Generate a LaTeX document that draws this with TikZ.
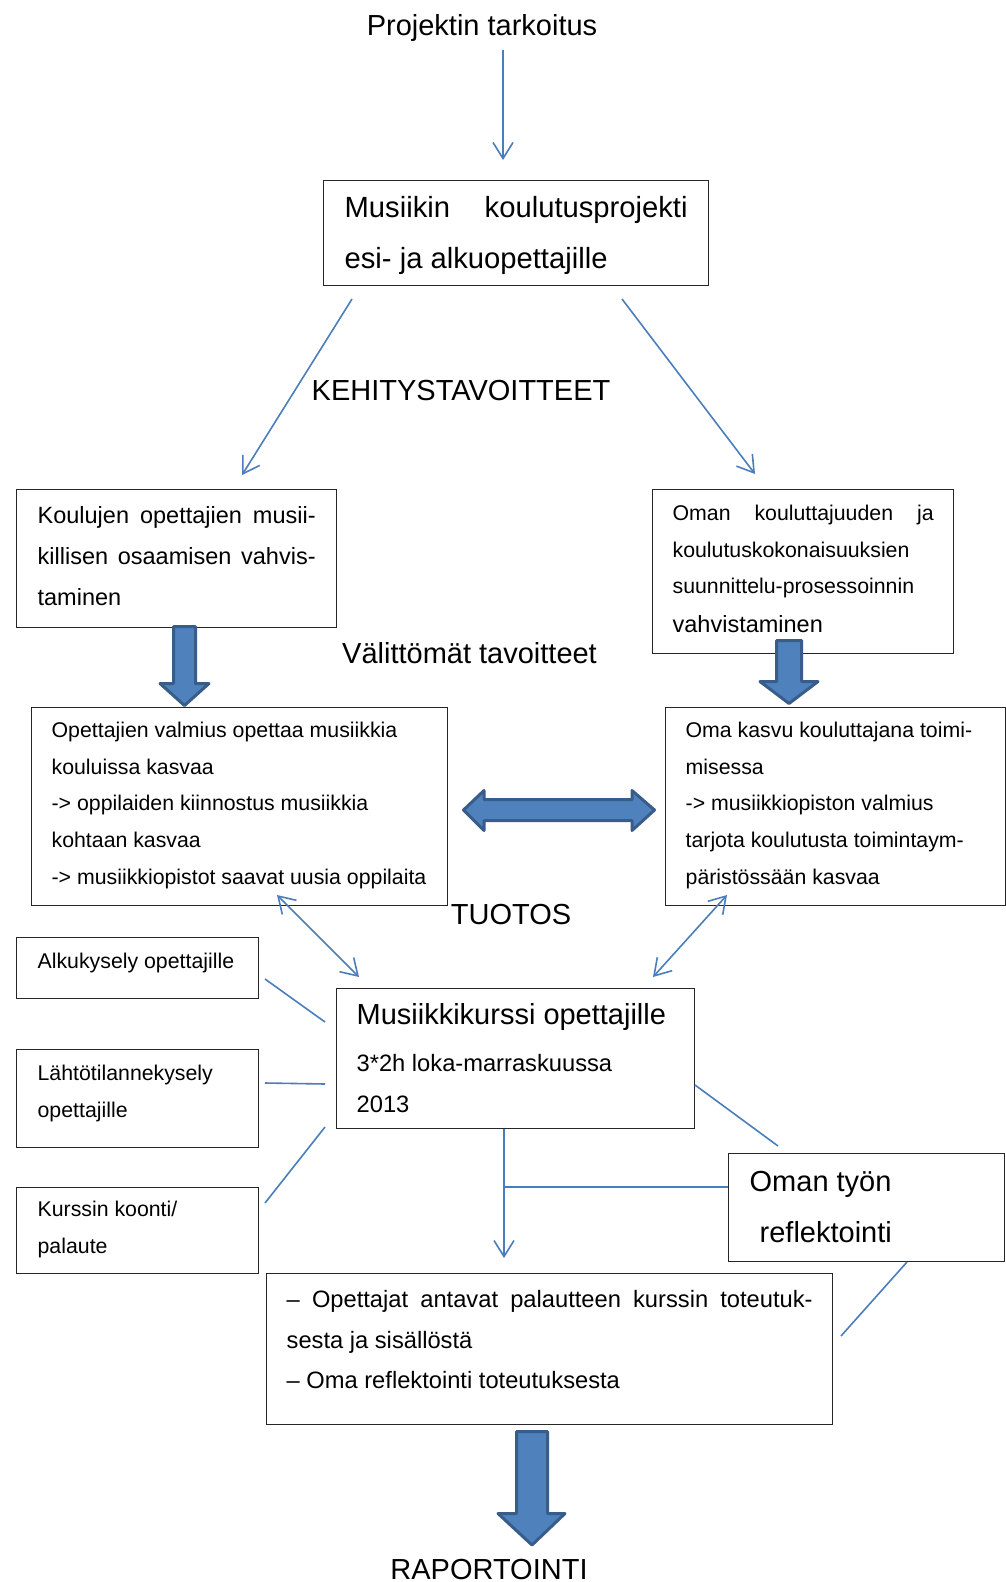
\documentclass[tikz,border=0pt]{standalone}
\usepackage{fontspec}
\setmainfont{Liberation Sans}
\usetikzlibrary{arrows.meta}
\definecolor{lb}{HTML}{4A7EBB}
\definecolor{bf}{HTML}{4F81BD}
\definecolor{bd}{HTML}{385D8A}
\newcommand\bxt[6]{\parbox[c][#2pt][t]{#1pt}{\fontsize{#3}{#4}\selectfont\rule{0pt}{#5pt}#6}}
\newcommand\jl[1]{\makebox[\linewidth][s]{#1}}
\begin{document}
\begin{tikzpicture}[x=1pt,y=-1pt,
  bx/.style={draw=black!85, line width=1.3pt, inner sep=0pt, anchor=north west, fill=white},
  conn/.style={draw=lb, line width=1.6pt},
  arr/.style={conn, -{Straight Barb[length=16pt,width=20pt,line width=1.6pt]}},
  darr/.style={conn, {Straight Barb[length=16pt,width=20pt,line width=1.6pt]}-{Straight Barb[length=16pt,width=20pt,line width=1.6pt]}},
  blk/.style={fill=bf, draw=bd, line width=3pt, line join=round},
  lbl/.style={anchor=base, inner sep=0pt, font=\fontsize{29}{35}\selectfont}]
\useasboundingbox (0,0) rectangle (1006,1582);
\fill[white] (0,0) rectangle (1006,1582);

% labels
\node[lbl] (title) at (482,35) {Projektin tarkoitus};
\node[lbl] (kehit) at (461,400) {KEHITYSTAVOITTEET};
\node[lbl] (valit) at (469.5,663) {Välittömät tavoitteet};
\node[lbl] (tuotos) at (511,924) {TUOTOS};
\node[lbl] (rap) at (489,1579) {RAPORTOINTI};

% boxes
\node[bx, minimum width=385pt] (proj) at (323,180)
  {\bxt{343}{105}{29.2}{51}{37}{\jl{Musiikin koulutusprojekti}\\esi- ja alkuopettajille}};
\node[bx, minimum width=320pt] (koul) at (16,489)
  {\bxt{278}{138}{23.5}{41}{34}{\jl{Koulujen opettajien musii-}\\\jl{killisen osaamisen vahvis-}\\taminen}};
\node[bx, minimum width=301pt] (oman) at (652,489)
  {\bxt{261}{164}{21.3}{36.6}{31}{\jl{Oman kouluttajuuden ja}\\koulutuskokonaisuuksien\\suunnittelu-prosessoinnin\\[2pt]{\fontsize{23.5}{36.6}\selectfont vahvistaminen}}};
\node[bx, minimum width=416pt] (valm) at (31,707)
  {\bxt{376}{198}{21.3}{36.6}{30}{Opettajien valmius opettaa musiikkia\\kouluissa kasvaa\\-> oppilaiden kiinnostus musiikkia\\kohtaan kasvaa\\-> musiikkiopistot saavat uusia oppilaita}};
\node[bx, minimum width=340pt] (kasvu) at (665,707)
  {\bxt{300}{198}{21.3}{36.6}{30}{Oma kasvu kouluttajana toimi-\\misessa\\-> musiikkiopiston valmius\\tarjota koulutusta toimintaym-\\päristössään kasvaa}};
\node[bx, minimum width=242pt] (alku) at (16,937)
  {\bxt{200}{61}{21.3}{37}{31}{Alkukysely opettajille}};
\node[bx, minimum width=242pt] (laht) at (16,1049)
  {\bxt{200}{98}{21.3}{37}{31}{Lähtötilannekysely\\opettajille}};
\node[bx, minimum width=242pt] (koon) at (16,1187)
  {\bxt{200}{86}{21.3}{37}{29}{Kurssin koonti/\\palaute}};
\node[bx, minimum width=358pt] (kurssi) at (336,988)
  {\bxt{318}{140}{23.7}{41}{36}{{\fontsize{29}{41}\selectfont Musiikkikurssi opettajille}\\[6pt]3*2h loka-marraskuussa\\2013}};
\node[bx, minimum width=276pt] (refl) at (728,1153)
  {\bxt{234}{108}{29}{51}{38}{Oman työn\\\hspace*{10pt}reflektointi}};
\node[bx, minimum width=566pt] (palaute) at (266,1273)
  {\bxt{526}{151}{23.7}{40.5}{34}{\jl{– Opettajat antavat palautteen kurssin toteutuk-}\\sesta ja sisällöstä\\– Oma reflektointi toteutuksesta}};

% connector end points
\coordinate (c1a) at (503,50);   \coordinate (c1b) at (503,160);
\coordinate (c2a) at (352,299);  \coordinate (c2b) at (242,475);
\coordinate (c3a) at (622,299);  \coordinate (c3b) at (755,474);
\coordinate (c4a) at (277,895);  \coordinate (c4b) at (359,977);
\coordinate (c5a) at (727,895);  \coordinate (c5b) at (653,977);
\coordinate (c6a) at (265,979);  \coordinate (c6b) at (325,1022);
\coordinate (c7a) at (265,1083); \coordinate (c7b) at (325,1084);
\coordinate (c8a) at (265,1203); \coordinate (c8b) at (325,1127);
\coordinate (c9b) at (504,1258); \coordinate (cj) at (504,1187);
\coordinate (c10a) at (695,1085); \coordinate (c10b) at (778,1146);
\coordinate (c11a) at (907,1262); \coordinate (c11b) at (841,1336);

\draw[arr] (c1a) -- (c1b);
\draw[arr] (c2a) -- (c2b);
\draw[arr] (c3a) -- (c3b);
\draw[darr] (c4a) -- (c4b);
\draw[darr] (c5a) -- (c5b);
\draw[conn] (c6a) -- (c6b);
\draw[conn] (c7a) -- (c7b);
\draw[conn] (c8a) -- (c8b);
\draw[arr] (kurssi.south -| cj) -- (c9b);
\draw[conn] (cj) -- (cj -| refl.west);
\draw[conn] (c10a) -- (c10b);
\draw[conn] (c11a) -- (c11b);

% block arrows
\draw[blk] (173.5,626.5) -- (195.5,626.5) -- (195.5,683.5) -- (209,683.5) -- (184.5,705.5) -- (160,683.5) -- (173.5,683.5) -- cycle;
\draw[blk] (776.5,640.5) -- (801.5,640.5) -- (801.5,681.5) -- (818,681.5) -- (789,703.5) -- (760,681.5) -- (776.5,681.5) -- cycle;
\draw[blk] (516.5,1431.5) -- (547.5,1431.5) -- (547.5,1513.5) -- (565,1513.5) -- (532,1545) -- (498,1513.5) -- (516.5,1513.5) -- cycle;
\draw[blk] (463.5,810) -- (484,790.5) -- (484,799.5) -- (632,799.5) -- (632,790.5) -- (654.5,810) -- (632,830.5) -- (632,820.5) -- (484,820.5) -- (484,830.5) -- cycle;
\end{tikzpicture}
\end{document}
